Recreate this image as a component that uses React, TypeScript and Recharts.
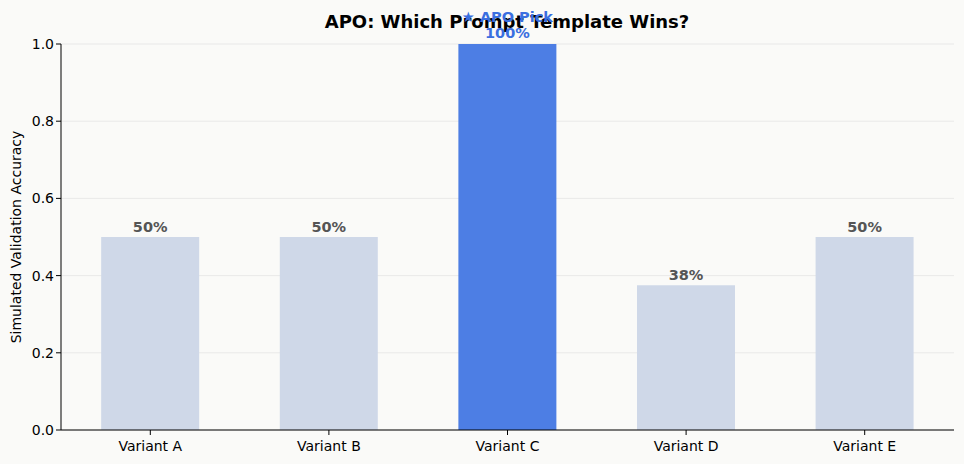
import React from 'react';
import { BarChart, Bar, XAxis, YAxis, CartesianGrid, Cell, LabelList } from 'recharts';

const variants = ['Variant A', 'Variant B', 'Variant C', 'Variant D', 'Variant E'];
const accuracy = [0.5, 0.5, 1.0, 0.375, 0.5];
const winner = 'Variant C';
const yTicks = [0, 0.2, 0.4, 0.6, 0.8, 1.0];

const data = variants.map((name, i) => ({ name, acc: accuracy[i] }));

const FONT = '"DejaVu Sans", sans-serif';
const BLUE = '#4d7ee4';
const PALE = '#cfd8e8';

const BarLabel = (props: any) => {
  const { x, y, width, value, index } = props;
  const cx = x + width / 2;
  const pct = `${Math.round(value * 100)}%`;
  if (variants[index] === winner) {
    return (
      <g style={{ fontFamily: FONT, fontWeight: 'bold', fontSize: 14.5 }}>
        <text x={cx} y={y - 22} textAnchor="middle" fill="#3b6fe0">★ APO Pick</text>
        <text x={cx} y={y - 6} textAnchor="middle" fill="#3b6fe0">{pct}</text>
      </g>
    );
  }
  return (
    <text x={cx} y={y - 5} textAnchor="middle" fill="#555555"
      style={{ fontFamily: FONT, fontWeight: 'bold', fontSize: 14.5 }}>
      {pct}
    </text>
  );
};

export default function App() {
  return (
    <div style={{ position: 'absolute', left: 0, top: 0, width: 964, height: 464, background: '#fafaf8', fontFamily: FONT }}>
      <BarChart width={964} height={464} data={data}
        margin={{ top: 44, right: 10, bottom: 0, left: 8 }} barCategoryGap="22.5%">
        <XAxis dataKey="name" stroke="#000" tickLine={{ stroke: '#000' }} tickSize={5} tickMargin={6}
          tick={{ fill: '#000', fontSize: 14, fontFamily: FONT }} height={34} />
        <YAxis domain={[0, 1]} ticks={yTicks} width={53} stroke="#000" tickSize={5}
          tickFormatter={(v: number) => v.toFixed(1)}
          tick={{ fill: '#000', fontSize: 14, fontFamily: FONT }} />
        <Bar dataKey="acc" isAnimationActive={false}>
          {data.map((d) => (
            <Cell key={d.name} fill={d.name === winner ? BLUE : PALE} />
          ))}
          <LabelList dataKey="acc" content={BarLabel} />
        </Bar>
        <CartesianGrid vertical={false} stroke="#dddddd" strokeOpacity={0.6} />
        <text x={16} y={237} textAnchor="middle" dominantBaseline="central" transform="rotate(-90 16 237)"
          style={{ fontFamily: FONT, fontSize: 14, fill: '#000' }}>
          Simulated Validation Accuracy
        </text>
        <text x={507} y={28} textAnchor="middle" style={{ fontFamily: FONT, fontWeight: 'bold', fontSize: 18 }}>
          APO: Which Prompt Template Wins?
        </text>
      </BarChart>
    </div>
  );
}
